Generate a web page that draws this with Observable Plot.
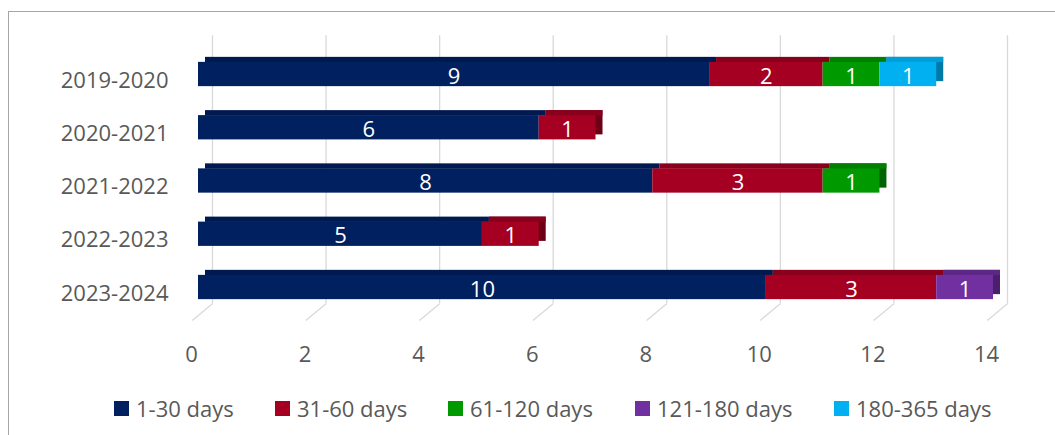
<!DOCTYPE html>
<html>
<head>
<meta charset="utf-8">
<script src="https://cdn.jsdelivr.net/npm/d3@7"></script>
<script src="https://cdn.jsdelivr.net/npm/@observablehq/plot@0.6"></script>
<style>
  body { margin: 0; background: #fff; font-family: "Open Sans", sans-serif; }
  #wrap { position: relative; width: 1055px; height: 435px; overflow: hidden; }
  #frame { position: absolute; left: 8px; top: 11px; width: 1200px; height: 600px; border: 1px solid #a6a6a6; }
  #chart { position: absolute; left: 0; top: 0; }
  #legend { position: absolute; left: 0; top: 392px; width: 1055px; height: 32px; font-size: 22px; color: #595959; white-space: nowrap; }
  .item { position: absolute; top: 0; height: 32px; display: flex; align-items: center; }
  .sw { width: 15px; height: 15px; margin-right: 7px; }
</style>
</head>
<body>
<div id="wrap">
  <div id="frame"></div>
  <div id="chart"></div>
  <div id="legend"></div>
</div>
<script>
const periods = ["2019-2020", "2020-2021", "2021-2022", "2022-2023", "2023-2024"];
const buckets = ["1-30 days", "31-60 days", "61-120 days", "121-180 days", "180-365 days"];
const days1to30 = [9, 6, 8, 5, 10];
const days31to60 = [2, 1, 3, 1, 3];
const days61to120 = [1, 0, 1, 0, 0];
const days121to180 = [0, 0, 0, 0, 1];
const days180to365 = [1, 0, 0, 0, 0];
const xTicks = [0, 2, 4, 6, 8, 10, 12, 14];

const frontColors = ["#002060", "#A50021", "#009900", "#7030A0", "#00B0F0"];
const topColors = ["#001a50", "#88001b", "#007f00", "#5c2785", "#009ed8"];
const sideColors = ["#001440", "#6e0016", "#006400", "#4a1f6b", "#0078a8"];

const series = [days1to30, days31to60, days61to120, days121to180, days180to365];

// build stacked segments
const segments = [];
periods.forEach((p, i) => {
  let acc = 0;
  series.forEach((vals, k) => {
    const v = vals[i];
    if (v > 0) {
      segments.push({period: p, row: i, bucket: buckets[k], k, value: v, x1: acc, x2: acc + v});
      acc += v;
    }
  });
});
const lastSegments = periods.map((p, i) => {
  const s = segments.filter(d => d.row === i);
  return s[s.length - 1];
});

const half = 0.228;      // half bar thickness (row units)
const topDepth = 0.1;    // depth of top face (row units)
const gridTop = -0.73, floorBack = 4.30, floorFront = 4.62, tickRow = 5.27;
const depthX = 0.25, frontShift = -0.11;

const chart = Plot.plot({
  width: 1055,
  height: 385,
  marginLeft: 0, marginRight: 0, marginTop: 0, marginBottom: 0,
  x: {domain: [0, 14], range: [198, 993], axis: null},
  y: {domain: [0, 4], range: [74, 287], axis: null},
  style: {fontFamily: "Open Sans, sans-serif", background: "transparent"},
  marks: [
    // back-wall gridlines
    Plot.ruleX(xTicks, {x: d => d, y1: gridTop, y2: floorBack, dx: 14, stroke: "#d9d9d9", strokeWidth: 1.3}),
    // floor diagonals
    Plot.link(xTicks, {x1: d => d + depthX, x2: d => d + frontShift, y1: floorBack, y2: floorFront, stroke: "#d9d9d9", strokeWidth: 1.3}),
    // side faces of last segments
    Plot.rect(lastSegments, {x1: "x1", x2: "x2", y1: d => d.row - half, y2: d => d.row + half, dx: 7, dy: -5, fill: d => sideColors[d.k]}),
    // top faces
    Plot.rect(segments, {x1: "x1", x2: "x2", y1: d => d.row - half, y2: d => d.row - half + topDepth, dx: 7, dy: -5, fill: d => topColors[d.k]}),
    // front faces
    Plot.rect(segments, {x1: "x1", x2: "x2", y1: d => d.row - half, y2: d => d.row + half, fill: d => frontColors[d.k]}),
    // value labels
    Plot.text(segments, {x: d => (d.x1 + d.x2) / 2, y: "row", text: d => String(d.value), fill: "white", fontSize: 22, dy: 2}),
    // category labels
    Plot.text(periods, {x: 0, y: (d, i) => i, text: d => d, textAnchor: "end", dx: -30, dy: 6, fontSize: 22, fill: "#595959"}),
    // x tick labels
    Plot.text(xTicks, {x: d => d, y: tickRow, text: d => String(d), dx: -7, fontSize: 22, fill: "#595959"})
  ]
});
document.getElementById("chart").appendChild(chart);

const legend = document.getElementById("legend");
const legendLeft = [114, 275, 448, 635, 834];
buckets.forEach((b, k) => {
  const it = document.createElement("div");
  it.className = "item";
  it.style.left = legendLeft[k] + "px";
  it.innerHTML = `<div class="sw" style="background:${frontColors[k]}"></div><span>${b}</span>`;
  legend.appendChild(it);
});
</script>
</body>
</html>
